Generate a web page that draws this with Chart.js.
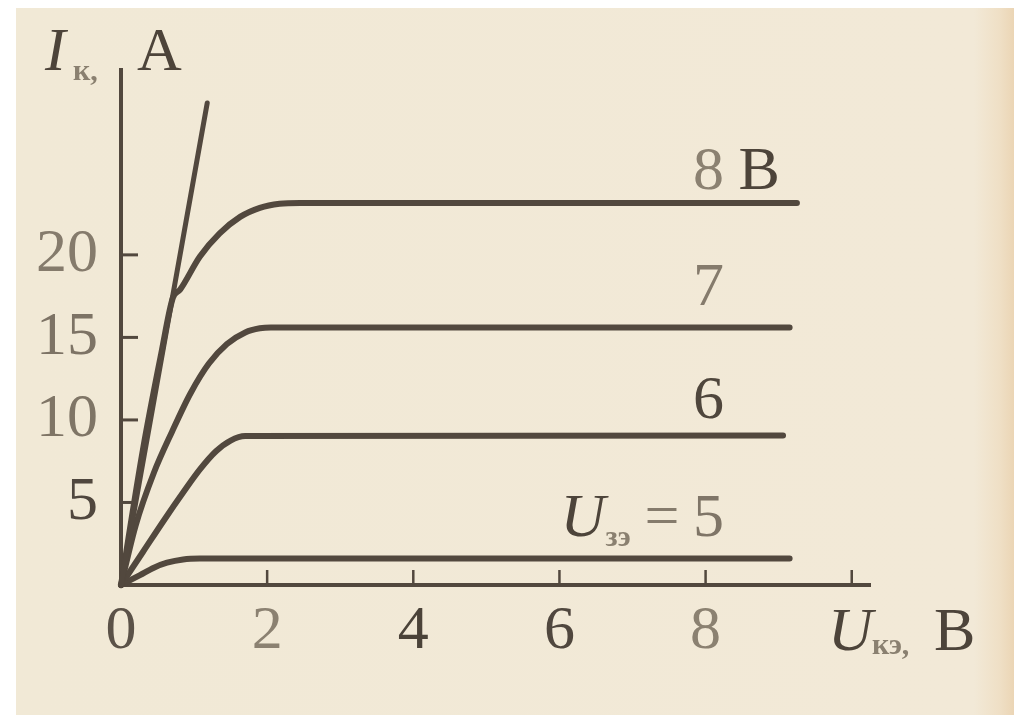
<!DOCTYPE html>
<html>
<head>
<meta charset="utf-8">
<script src="https://cdn.jsdelivr.net/npm/chart.js@4.4.1/dist/chart.umd.min.js"></script>
<style>
  html, body { margin: 0; padding: 0; background: #ffffff; }
  #page { position: relative; width: 1014px; height: 715px; overflow: hidden; background: #ffffff; }
  #paper {
    position: absolute; left: 16px; top: 8px; right: 0; bottom: 0;
    background: linear-gradient(to right, #f1e9d6 0%, #f2e9d7 96%, #efdfc5 98.6%, #ebd5b5 100%);
  }
  #chart { position: absolute; left: 0; top: 0; }
</style>
</head>
<body>
<div id="page">
  <div id="paper"></div>
  <canvas id="chart" width="1014" height="715"></canvas>
</div>
<script>
// Output characteristics: collector current I_к (A) vs collector-emitter voltage U_кэ (V)
var gateLevels = ['8', '7', '6', '5'];

var u8 = [0, 0.3, 0.55, 0.71, 0.81, 1.08, 1.35, 1.63, 1.9, 2.17, 2.45, 9.25];
var i8 = [0, 8.2, 14.0, 17.4, 17.9, 19.9, 21.3, 22.3, 22.85, 23.1, 23.15, 23.15];

var u7 = [0, 0.2, 0.45, 0.7, 0.95, 1.2, 1.45, 1.7, 1.9, 2.05, 9.15];
var i7 = [0, 3.6, 6.8, 9.3, 11.6, 13.4, 14.6, 15.3, 15.55, 15.6, 15.6];

var u6 = [0, 0.3, 0.6, 0.85, 1.08, 1.3, 1.5, 1.7, 9.06];
var i6 = [0, 2.0, 4.0, 5.6, 7.0, 8.1, 8.75, 9.02, 9.05];

var u5 = [0, 0.26, 0.45, 0.63, 0.85, 1.08, 9.15];
var i5 = [0, 0.6, 1.05, 1.35, 1.55, 1.6, 1.6];

// steep boundary line from the origin
var uEdge = [0, 1.18];
var iEdge = [0, 29.2];

var xLabeled = [0, 2, 4, 6, 8];
var yLabeled = [5, 10, 15, 20];

var INK = '#52483e';
var SERIF = '"Liberation Serif", "DejaVu Serif", serif';

function points(xs, ys) {
  return xs.map(function (x, k) { return { x: x, y: ys[k] }; });
}

function lineSet(xs, ys, width) {
  return {
    data: points(xs, ys),
    showLine: true,
    borderColor: INK,
    borderWidth: width,
    borderCapStyle: 'round',
    borderJoinStyle: 'round',
    pointRadius: 0,
    cubicInterpolationMode: 'monotone',
    clip: false
  };
}

var xTickColor = { 0: '#5b5248', 2: '#8b8171', 4: '#4b4339', 6: '#50473e', 8: '#8b8171' };
var yTickColor = { 5: '#50473e', 10: '#7f7566', 15: '#7d7365', 20: '#857b6c' };

function text(ctx, str, x, y, font, color, align) {
  ctx.font = font;
  ctx.fillStyle = color;
  ctx.textAlign = align || 'left';
  ctx.textBaseline = 'alphabetic';
  ctx.fillText(str, x, y);
}

// inward tick marks, axis titles and curve labels
var inkDecor = {
  id: 'inkDecor',
  afterDraw: function (chart) {
    var ctx = chart.ctx;
    var xs = chart.scales.x;
    var ys = chart.scales.y;
    var area = chart.chartArea;
    ctx.save();
    ctx.strokeStyle = INK;
    ctx.lineCap = 'butt';

    ctx.lineWidth = 3;
    ys.ticks.forEach(function (t) {
      if (yLabeled.indexOf(t.value) < 0) return;
      var py = ys.getPixelForValue(t.value);
      ctx.beginPath();
      ctx.moveTo(area.left, py);
      ctx.lineTo(area.left + 17, py);
      ctx.stroke();
    });

    ctx.lineWidth = 2.5;
    xs.ticks.forEach(function (t) {
      if (t.value === 0) return;
      var px = xs.getPixelForValue(t.value);
      ctx.beginPath();
      ctx.moveTo(px, area.bottom);
      ctx.lineTo(px, area.bottom - 15);
      ctx.stroke();
    });

    var big = '62px ' + SERIF;
    var bigItalic = 'italic 62px ' + SERIF;
    var small = 'bold 30px ' + SERIF;

    // y axis title: I_к, A
    text(ctx, 'I', area.left - 76, area.top, bigItalic, '#4d443a');
    text(ctx, 'к,', area.left - 48, area.top + 10, small, '#8a8070');
    text(ctx, 'A', area.left + 16, area.top, big, '#4d443a');

    // x axis title: U_кэ, B
    text(ctx, 'U', area.right - 42, area.bottom + 65, bigItalic, '#4d443a');
    text(ctx, 'кэ,', area.right + 2, area.bottom + 69, small, '#8a8070');
    text(ctx, 'B', area.right + 64, area.bottom + 65, big, '#4d443a');

    // curve labels sit above the flat part of each curve, over U = 8
    var cx = xs.getPixelForValue(8) + 3;
    var y8 = ys.getPixelForValue(i8[i8.length - 1]) - 14;
    text(ctx, gateLevels[0], cx, y8, big, '#8b8171', 'center');
    text(ctx, 'B', cx + 30, y8, big, '#4d443a');

    var y7 = ys.getPixelForValue(i7[i7.length - 1]) - 23;
    text(ctx, gateLevels[1], cx, y7, big, '#857b6c', 'center');

    var y6 = ys.getPixelForValue(i6[i6.length - 1]) - 18;
    text(ctx, gateLevels[2], cx, y6, big, '#4f463c', 'center');

    var y5 = ys.getPixelForValue(i5[i5.length - 1]) - 23;
    text(ctx, gateLevels[3], cx, y5, big, '#7f7567', 'center');
    text(ctx, '=', cx - 64, y5, big, '#857b6c');
    text(ctx, 'зэ', cx - 103, y5 + 10, small, '#8a8070');
    text(ctx, 'U', cx - 148, y5, bigItalic, '#4d443a');

    ctx.restore();
  }
};

var ctx = document.getElementById('chart').getContext('2d');

var chart = new Chart(ctx, {
  type: 'scatter',
  data: {
    datasets: [
      lineSet(uEdge, iEdge, 5),
      lineSet(u8, i8, 6),
      lineSet(u7, i7, 6),
      lineSet(u6, i6, 6),
      lineSet(u5, i5, 6)
    ]
  },
  options: {
    responsive: false,
    animation: false,
    events: [],
    layout: { padding: { top: 70, right: 144, left: 0, bottom: 0 } },
    plugins: {
      legend: { display: false },
      tooltip: { enabled: false }
    },
    scales: {
      x: {
        type: 'linear',
        min: 0,
        max: 10.25,
        afterFit: function (scale) { scale.height = 130; },
        grid: { display: false, drawTicks: false },
        border: { display: true, color: INK, width: 4 },
        ticks: {
          stepSize: 2,
          includeBounds: false,
          autoSkip: false,
          maxRotation: 0,
          padding: 10,
          font: { family: SERIF, size: 62 },
          color: function (c) { return xTickColor[c.tick.value] || INK; },
          callback: function (v) { return xLabeled.indexOf(v) >= 0 ? String(v) : ''; }
        }
      },
      y: {
        type: 'linear',
        min: 0,
        max: 31.2,
        afterFit: function (scale) { scale.width = 121; },
        grid: { display: false, drawTicks: false },
        border: { display: true, color: INK, width: 4 },
        ticks: {
          stepSize: 5,
          includeBounds: false,
          autoSkip: false,
          padding: 23,
          font: { family: SERIF, size: 62 },
          color: function (c) { return yTickColor[c.tick.value] || INK; },
          callback: function (v) { return yLabeled.indexOf(v) >= 0 ? String(v) : null; }
        }
      }
    }
  },
  plugins: [inkDecor]
});
</script>
</body>
</html>
